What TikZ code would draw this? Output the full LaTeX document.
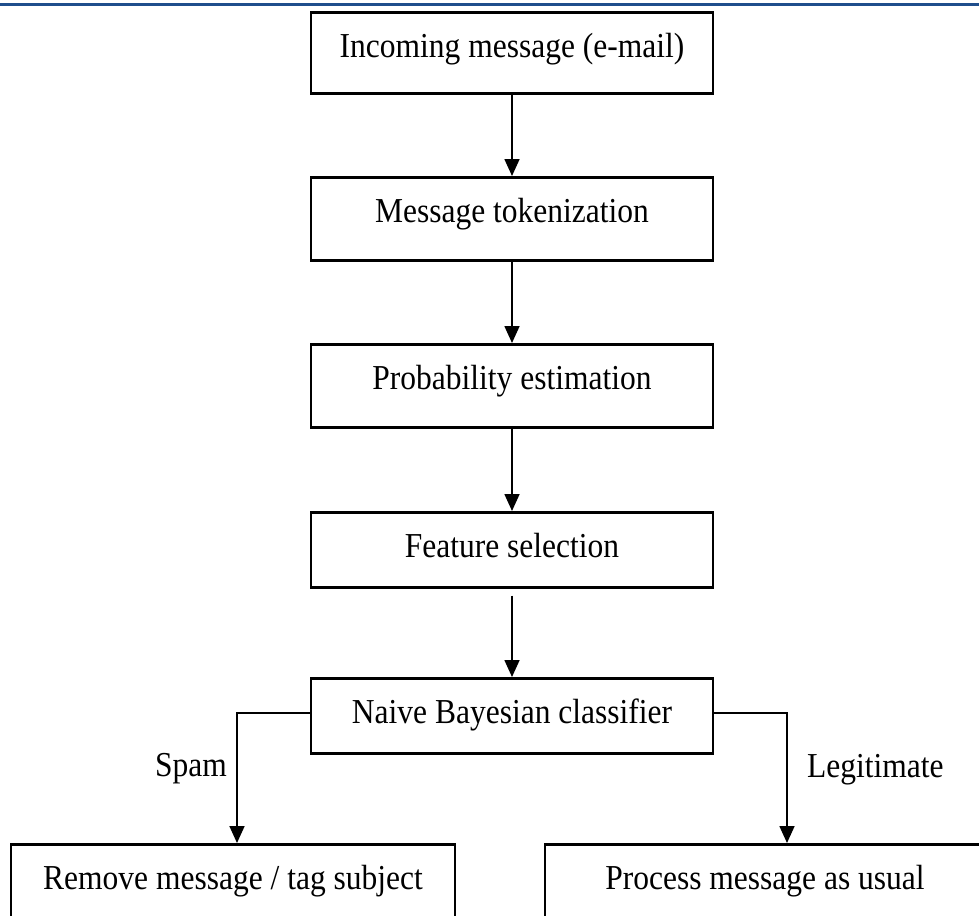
\documentclass[tikz,border=0pt]{standalone}
\usepackage{fontspec}
\setmainfont[FakeStretch=0.9]{Liberation Serif}
\usetikzlibrary{arrows.meta}
\definecolor{linkblue}{HTML}{1F4E8C}
\tikzset{
  box/.style={draw, line width=2.6pt, inner ysep=0pt, inner xsep=0pt,
    text height=45pt, font=\fontsize{35pt}{40pt}\selectfont},
  midbox/.style={box, minimum width=402pt},
  lbl/.style={inner sep=0pt, font=\fontsize{35pt}{40pt}\selectfont},
  conn/.style={line width=1.7pt, -{Triangle[length=17pt,width=15pt]}},
}
\begin{document}
\begin{tikzpicture}[x=1pt,y=-1pt]
\useasboundingbox (0,0) rectangle (979,915);
\clip (0,0) rectangle (979,915);
\fill[white] (0,0) rectangle (979,915);
\fill[linkblue] (0,3.5) rectangle (979,6);
\node[midbox, text depth=36pt, anchor=north] (b1) at (512,11) {Incoming message (e-mail)};
\node[midbox, text depth=38pt, anchor=north] (b2) at (512,176) {Message tokenization};
\node[midbox, text depth=38pt, anchor=north] (b3) at (512,343) {Probability estimation};
\node[midbox, text depth=30pt, anchor=north] (b4) at (512,511) {Feature selection};
\node[midbox, text depth=30pt, anchor=north] (b5) at (512,677) {Naive Bayesian classifier};
\node[box, minimum width=444pt, text depth=45pt, anchor=north] (b6) at (233,843) {Remove message / tag subject};
\node[box, minimum width=440pt, text depth=45pt, anchor=north] (b7) at (765,843) {Process message as usual};
\coordinate (sl) at (237,713);
\coordinate (sr) at (787,713);
\draw[conn] (b1) -- (b2);
\draw[conn] (b2) -- (b3);
\draw[conn] (b3) -- (b4);
\draw[conn, shorten <=7pt] (b4) -- (b5);
\draw[conn] (b5.west |- sl) -- (sl) -- (sl |- b6.north);
\draw[conn] (b5.east |- sr) -- (sr) -- (sr |- b7.north);
\node[lbl, anchor=base east] (spam) at (227,776) {Spam};
\node[lbl, anchor=base west] (legit) at (807,777) {Legitimate};
\end{tikzpicture}
\end{document}
